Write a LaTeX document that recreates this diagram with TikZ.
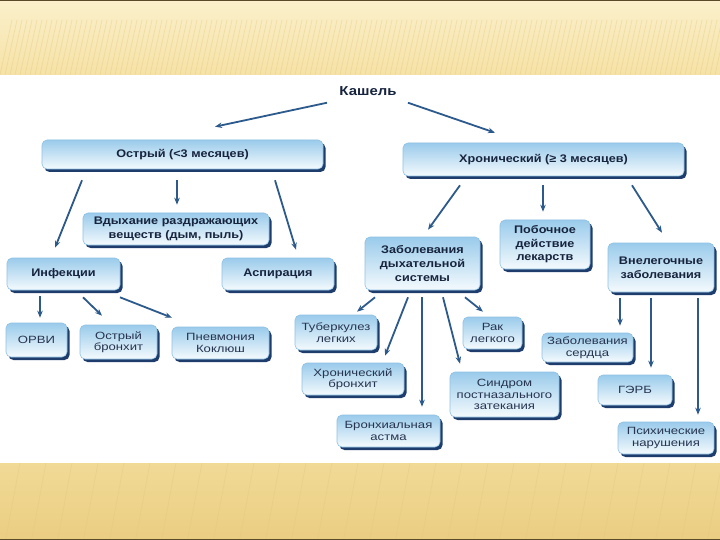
\documentclass[tikz,border=0pt]{standalone}
\usepackage{fontspec}
\setmainfont{Liberation Sans}
\newfontfamily\widesans[FakeStretch=1.15]{Liberation Sans}
\newfontfamily\leafsans[FakeStretch=1.25]{Liberation Sans}
\usetikzlibrary{shadows,arrows.meta}
\definecolor{beigeA}{HTML}{FBF0CB}
\definecolor{beigeB}{HTML}{F6E2A6}
\definecolor{beigeC}{HTML}{F1DA96}
\definecolor{beigeD}{HTML}{EACD82}
\definecolor{stripe}{HTML}{E2C77E}
\definecolor{edgeline}{HTML}{5A4A2A}
\definecolor{boxtop}{HTML}{9ACBEB}
\definecolor{boxbot}{HTML}{F4FAFD}
\definecolor{boxedge}{HTML}{8FC2E4}
\definecolor{shadowc}{HTML}{1E3C6C}
\definecolor{txt}{HTML}{17243D}
\definecolor{leaftxt}{HTML}{26344F}
\definecolor{arrc}{HTML}{2D5A8C}
\tikzset{
  cbox/.style 2 args={rounded corners=5pt, top color=boxtop, bottom color=boxbot,
    draw=boxedge, line width=0.6pt,
    drop shadow={shadow xshift=2.5pt, shadow yshift=-3pt, fill=shadowc, opacity=1},
    align=center, text=txt, inner sep=1pt,
    minimum width=#1pt, minimum height=#2pt},
  midf/.style={font=\widesans\fontsize{11}{14}\selectfont\bfseries},
  midg/.style={font=\widesans\fontsize{11}{13.5}\selectfont\bfseries},
  leaff/.style={font=\leafsans\fontsize{10.5}{11.5}\selectfont, text=leaftxt},
  arr/.style={draw=arrc, line width=1.8pt, -{Stealth[length=7pt,width=5.5pt]}},
  stripes/.style={draw=stripe, line width=0.8pt, opacity=0.35},
}
\begin{document}
\begin{tikzpicture}[x=1pt,y=-1pt]
\useasboundingbox (0,0) rectangle (720,540);
% background
\fill[top color=beigeA,bottom color=beigeB] (0,0) rectangle (720,75);
\fill[top color=beigeC,bottom color=beigeD] (0,463) rectangle (720,540);
\begin{scope}
  \clip (0,20) rectangle (720,75);
  \foreach \i in {0,5,...,740} \draw[stripes] (\i,75) -- (\i+12,20);
\end{scope}
\begin{scope}
  \clip (0,463) rectangle (720,538);
  \foreach \i in {-20,6,...,740} \draw[stripes] (\i,538) -- (\i+14,463);
\end{scope}
\fill[white] (0,75) rectangle (720,463);
\fill[edgeline] (0,0) rectangle (720,1.2);
\fill[edgeline] (0,538.5) rectangle (720,540);

% nodes
\node[text=txt, font=\widesans\fontsize{13}{15}\selectfont\bfseries, inner sep=2pt] (kash) at (368,91) {Кашель};
\node[cbox={281}{29}, midf] (ostr) at (182.5,154.5) {Острый (<3 месяцев)};
\node[cbox={281}{33}, midf] (hron) at (543.5,159.5) {Хронический (≥ 3 месяцев)};
\node[cbox={186}{32}, midg] (vdyh) at (176,229) {Вдыхание раздражающих\\веществ (дым, пыль)};
\node[cbox={113}{32}, midf] (infek) at (63.5,274) {Инфекции};
\node[cbox={112}{32}, midf] (aspir) at (278,274) {Аспирация};
\node[cbox={115}{53}, midf] (zabdyh) at (422.5,263.5) {Заболевания\\дыхательной\\системы};
\node[cbox={90}{49}, midg] (pobo) at (545,244.5) {Побочное\\действие\\лекарств};
\node[cbox={106}{49}, midf] (vnel) at (661,267.5) {Внелегочные\\заболевания};

\node[cbox={61}{34}, leaff] (orvi) at (36.5,340) {ОРВИ};
\node[cbox={77}{34}, leaff] (obronh) at (118.5,342) {Острый\\бронхит};
\node[cbox={97}{32}, leaff] (pnev) at (220.5,343) {Пневмония\\Коклюш};
\node[cbox={82}{35}, leaff] (tub) at (336,332.5) {Туберкулез\\легких};
\node[cbox={102}{32}, leaff] (hbronh) at (353,379) {Хронический\\бронхит};
\node[cbox={103}{32}, leaff] (astma) at (388.5,431) {Бронхиальная\\астма};
\node[cbox={59}{32}, leaff] (rak) at (492.5,333) {Рак\\легкого};
\node[cbox={109}{45}, leaff] (sindr) at (504.5,394.5) {Синдром\\постназального\\затекания};
\node[cbox={91}{29}, leaff] (serd) at (587.5,347.5) {Заболевания\\сердца};
\node[cbox={74}{30}, leaff] (gerb) at (635,390) {ГЭРБ};
\node[cbox={96}{32}, leaff] (psih) at (666,438) {Психические\\нарушения};

% connectors
\draw[arr] ([xshift=-41pt,yshift=-5pt]kash.south) -- ([xshift=32.5pt,yshift=13pt]ostr.north);
\draw[arr] ([xshift=40pt,yshift=-5pt]kash.south) -- ([xshift=-48.5pt,yshift=10pt]hron.north);

\draw[arr] ([xshift=-100.5pt,yshift=-11pt]ostr.south) -- ([xshift=-8.5pt,yshift=10pt]infek.north);
\draw[arr] ([xshift=-5.5pt,yshift=-11pt]ostr.south) -- ([xshift=-5.5pt,yshift=8pt]ostr.south |- vdyh.north);
\draw[arr] ([xshift=92.5pt,yshift=-11pt]ostr.south) -- ([xshift=18pt,yshift=8pt]aspir.north);

\draw[arr] ([xshift=-83.5pt,yshift=-9pt]hron.south) -- ([xshift=5.5pt,yshift=7pt]zabdyh.north);
\draw[arr] ([xshift=-0.5pt,yshift=-9pt]hron.south) -- ([xshift=-0.5pt,yshift=8pt]hron.south |- pobo.north);
\draw[arr] ([xshift=88.5pt,yshift=-9pt]hron.south) -- ([xshift=1pt,yshift=10pt]vnel.north);

\draw[arr] ([xshift=-23.5pt,yshift=-6pt]infek.south) -- ([xshift=-23.5pt,yshift=5pt]infek.south |- orvi.north);
\draw[arr] ([xshift=19.5pt,yshift=-7pt]infek.south) -- ([xshift=-16.5pt,yshift=9pt]obronh.north);
\draw[arr] ([xshift=56.5pt,yshift=-7pt]infek.south) -- ([xshift=-48.5pt,yshift=9pt]pnev.north);

\draw[arr] ([xshift=-47.5pt,yshift=-7pt]zabdyh.south) -- ([xshift=21pt,yshift=3pt]tub.north);
\draw[arr] ([xshift=-14.5pt,yshift=-7pt]zabdyh.south) -- ([xshift=32pt,yshift=7pt]hbronh.north);
\draw[arr] ([xshift=-0.5pt,yshift=-7pt]zabdyh.south) -- ([xshift=-0.5pt,yshift=8pt]zabdyh.south |- astma.north);
\draw[arr] ([xshift=20.5pt,yshift=-7pt]zabdyh.south) -- ([xshift=-44.5pt,yshift=8pt]sindr.north);
\draw[arr] ([xshift=42.5pt,yshift=-7pt]zabdyh.south) -- ([xshift=-9.5pt,yshift=5pt]rak.north);

\draw[arr] ([xshift=-41pt,yshift=-6pt]vnel.south) -- ([xshift=-41pt,yshift=7pt]vnel.south |- serd.north);
\draw[arr] ([xshift=-10pt,yshift=-6pt]vnel.south) -- ([xshift=-10pt,yshift=7pt]vnel.south |- gerb.north);
\draw[arr] ([xshift=37pt,yshift=-6pt]vnel.south) -- ([xshift=37pt,yshift=7pt]vnel.south |- psih.north);
\end{tikzpicture}
\end{document}
